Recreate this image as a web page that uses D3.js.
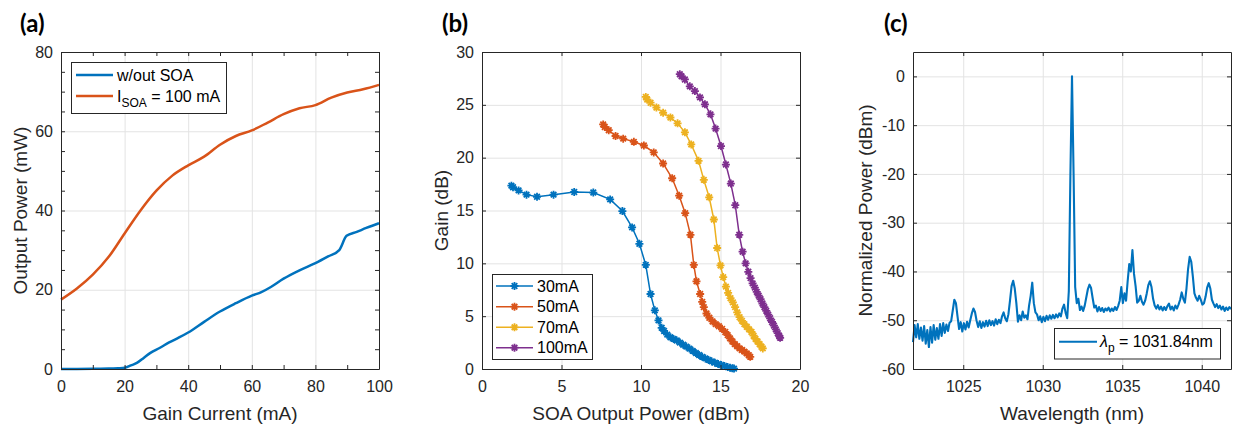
<!DOCTYPE html>
<meta charset="utf-8">
<style>
  body { margin: 0; background: #fff; }
  svg { display: block; font-family: "Liberation Sans", Arial, sans-serif; }
  .panel-label { font-family: Lato, "Open Sans", sans-serif; font-weight: bold; font-size: 24px; fill: #000; }
  .axis-title { font-size: 19px; fill: #262626; }
  .legend-text { font-size: 16px; fill: #000; }
</style>
<body>
<svg id="fig" width="1235" height="424"></svg>
<script src="https://d3js.org/d3.v7.min.js"></script>
<script>
// ---- (a) output power vs gain current
const currentNoSoa = [0, 5, 10, 15, 18, 20, 22, 24, 26, 28, 31, 34, 37, 40, 45, 50, 55, 60, 63, 66, 70, 75, 80, 84, 87.5, 89.8, 93, 96, 100];
const powerNoSoa   = [0, 0.02, 0.05, 0.1, 0.2, 0.3, 0.9, 1.6, 2.8, 4.0, 5.3, 6.7, 7.9, 9.2, 11.9, 14.5, 16.6, 18.5, 19.4, 20.7, 22.8, 24.9, 26.7, 28.4, 30.0, 33.6, 34.6, 35.6, 36.8];
const currentSoa   = [0, 5, 10, 15, 20, 25, 30, 35, 40, 45, 50, 55, 60, 65, 70, 75, 80, 85, 90, 95, 100];
const powerSoa     = [17.5, 20.3, 23.8, 28.3, 34.2, 40.0, 45.0, 48.8, 51.4, 53.6, 56.6, 58.8, 60.2, 62.2, 64.3, 65.8, 66.6, 68.5, 69.8, 70.6, 71.7];

// ---- (b) gain vs SOA output power
const pout30 = [1.85, 1.95, 2.3, 2.8, 3.46, 4.5, 5.8, 7.0, 8.06, 8.83, 9.44, 9.9, 10.3, 10.6, 10.87, 11.1, 11.3, 11.45, 11.65, 11.85, 12.05, 12.25, 12.45, 12.65, 12.85, 13.05, 13.25, 13.45, 13.65, 13.85, 14.05, 14.25, 14.45, 14.65, 14.85, 15.05, 15.25, 15.45, 15.6, 15.75, 15.85];
const gain30 = [17.35, 17.2, 16.9, 16.5, 16.3, 16.5, 16.75, 16.7, 16.05, 14.95, 13.4, 11.85, 9.85, 7.1, 5.55, 4.6, 3.9, 3.6, 3.25, 3.0, 2.85, 2.7, 2.5, 2.3, 2.12, 1.93, 1.72, 1.52, 1.33, 1.15, 1.0, 0.86, 0.72, 0.6, 0.48, 0.38, 0.28, 0.18, 0.12, 0.06, 0.04];
const pout50 = [7.62, 7.72, 7.97, 8.4, 8.88, 9.55, 10.18, 10.8, 11.39, 11.96, 12.4, 12.78, 13.11, 13.32, 13.49, 13.72, 13.85, 13.95, 14.12, 14.3, 14.5, 14.7, 14.9, 15.1, 15.3, 15.45, 15.6, 15.75, 15.9, 16.05, 16.2, 16.35, 16.5, 16.65, 16.78, 16.87];
const gain50 = [23.15, 22.9, 22.6, 22.05, 21.8, 21.5, 21.15, 20.5, 19.45, 18.05, 16.4, 14.75, 12.7, 9.85, 8.3, 7.1, 6.35, 5.85, 5.25, 4.85, 4.5, 4.25, 4.05, 3.8, 3.5, 3.2, 2.9, 2.6, 2.35, 2.15, 1.95, 1.8, 1.65, 1.48, 1.3, 1.15];
const pout70 = [10.3, 10.39, 10.6, 10.97, 11.39, 11.85, 12.3, 12.76, 13.16, 13.62, 13.95, 14.29, 14.58, 14.79, 15.0, 15.17, 15.34, 15.48, 15.63, 15.78, 15.92, 16.05, 16.2, 16.35, 16.5, 16.65, 16.8, 16.95, 17.08, 17.2, 17.33, 17.46, 17.58, 17.66];
const gain70 = [25.75, 25.5, 25.2, 24.75, 24.25, 23.8, 23.25, 22.4, 21.25, 19.7, 17.9, 16.25, 14.15, 11.45, 9.8, 8.7, 7.8, 7.2, 6.7, 6.3, 5.85, 5.35, 4.9, 4.55, 4.25, 4.0, 3.75, 3.5, 3.15, 2.85, 2.6, 2.35, 2.1, 1.95];
const pout100 = [12.44, 12.55, 12.76, 13.07, 13.39, 13.71, 14.02, 14.37, 14.69, 15.03, 15.34, 15.65, 15.93, 16.18, 16.39, 16.58, 16.75, 16.89, 17.02, 17.16, 17.28, 17.4, 17.52, 17.64, 17.76, 17.88, 18.0, 18.12, 18.24, 18.36, 18.48, 18.6, 18.7, 18.75];
const gain100 = [27.9, 27.7, 27.4, 26.75, 26.3, 25.7, 25.05, 24.1, 22.75, 21.1, 19.35, 17.55, 15.5, 12.7, 11.1, 10.0, 9.2, 8.6, 8.1, 7.7, 7.3, 6.95, 6.6, 6.2, 5.85, 5.5, 5.15, 4.8, 4.45, 4.1, 3.75, 3.4, 3.1, 2.95];
const soaLabels = ["30mA", "50mA", "70mA", "100mA"];

// ---- (c) optical spectrum, sampled every 0.1 nm from 1021.84 nm
const specStart = 1021.84, specStep = 0.1;
const specPower = [
  -54.5, -51.0, -53.5, -50.8, -53.8, -51.5, -54.2, -51.2, -54.8, -52.0,
  -55.5, -51.4, -54.6, -51.0, -54.0, -51.6, -53.8, -50.8, -53.2, -50.6,
  -52.6, -50.9, -52.2, -50.5, -50.2, -48.0, -45.8, -46.5, -49.2, -51.8,
  -50.4, -52.3, -50.6, -51.9, -50.3, -51.5, -50.0, -48.6, -47.6, -48.3,
  -50.1, -51.4, -50.2, -51.6, -50.4, -51.3, -50.1, -51.2, -50.0, -51.0,
  -50.2, -51.1, -49.8, -50.8, -49.9, -50.6, -49.2, -48.4, -49.6, -50.2,
  -48.8, -46.0, -43.0, -41.9, -43.5, -46.5, -50.3, -49.0, -50.0, -48.2,
  -49.5, -49.0, -49.8, -47.0, -45.0, -42.3, -46.5, -48.4, -48.8, -50.0,
  -49.2, -50.4, -49.3, -50.2, -49.1, -49.9, -49.0, -49.7, -48.9, -49.6,
  -48.8, -49.4, -48.6, -49.2, -47.6, -46.8, -48.5, -49.6, -44.0, -20.0,
  0.0, -20.0, -43.2, -46.5, -45.6, -47.9, -47.2, -48.1, -47.0, -45.3,
  -43.6, -42.7, -43.4, -45.5, -47.4, -47.0, -48.2, -47.3, -48.1, -47.5,
  -48.3, -47.6, -48.0, -47.4, -48.2, -47.6, -48.1, -47.3, -47.9, -47.1,
  -46.0, -43.2, -46.5, -44.5, -46.0, -42.0, -38.5, -40.0, -35.6, -40.5,
  -43.0, -46.4, -46.0, -45.0, -46.2, -46.8, -46.0, -44.5, -42.8, -42.0,
  -43.2, -45.6, -47.0, -47.6, -46.9, -47.8, -47.2, -48.0, -47.3, -47.9,
  -47.1, -46.6, -47.8, -47.2, -48.0, -47.0, -47.6, -46.8, -45.8, -44.3,
  -45.6, -46.4, -43.5, -39.5, -37.0, -38.0, -41.0, -44.5, -45.4, -46.0,
  -45.0, -45.8, -46.8, -46.5, -45.2, -43.3, -42.4, -43.5, -45.8, -46.6,
  -47.3, -46.7, -47.5, -47.0, -47.8, -47.2, -48.1, -47.4, -47.9, -47.3,
  -47.7
];

const colors = ["#0072BD", "#D95319", "#EDB120", "#7E2F8E"];
const AX = "#262626", GRID = "#e3e3e3";

const svg = d3.select("#fig");
svg.append("rect").attr("width", 1235).attr("height", 424).attr("fill", "#fff");

// one MATLAB-like axes box: grid, inward ticks on all four sides
function makeAxes(o) {
  const x = d3.scaleLinear().domain(o.xDomain).range([o.left, o.right]);
  const y = d3.scaleLinear().domain(o.yDomain).range([o.bottom, o.top]);
  const w = o.right - o.left, h = o.bottom - o.top;
  const grid = svg.append("g");
  grid.append("g").attr("transform", `translate(0,${o.bottom})`)
    .call(d3.axisBottom(x).tickValues(o.gridX).tickSize(-h).tickFormat(""))
    .call(s => s.select(".domain").remove());
  grid.append("g").attr("transform", `translate(${o.left},0)`)
    .call(d3.axisLeft(y).tickValues(o.gridY).tickSize(-w).tickFormat(""))
    .call(s => s.select(".domain").remove());
  grid.selectAll("line").attr("stroke", GRID).attr("stroke-width", 1);
  const plot = svg.append("g");
  const frame = () => {
    const f = svg.append("g");
    const lab = (list, fmt) => d => list.includes(d) ? fmt(d) : "";
    f.append("g").attr("transform", `translate(0,${o.bottom})`)
      .call(d3.axisBottom(x).tickValues(o.ticksX).tickSize(-4).tickSizeOuter(0).tickPadding(12)
        .tickFormat(lab(o.labelsX, d => String(d))));
    f.append("g").attr("transform", `translate(0,${o.top})`)
      .call(d3.axisTop(x).tickValues(o.ticksX).tickSize(-4).tickSizeOuter(0).tickFormat(""));
    f.append("g").attr("transform", `translate(${o.left},0)`)
      .call(d3.axisLeft(y).tickValues(o.ticksY).tickSize(-4).tickSizeOuter(0).tickPadding(8)
        .tickFormat(lab(o.labelsY, d => String(d))));
    f.append("g").attr("transform", `translate(${o.right},0)`)
      .call(d3.axisRight(y).tickValues(o.ticksY).tickSize(-4).tickSizeOuter(0).tickFormat(""));
    f.selectAll(".domain, line").attr("stroke", AX).attr("stroke-width", 1);
    f.selectAll("text").attr("fill", AX).attr("font-size", 16)
      .attr("font-family", '"Liberation Sans", Arial, sans-serif');
    svg.append("text").attr("class", "axis-title")
      .attr("x", (o.left + o.right) / 2).attr("y", 413).attr("dy", "0.35em")
      .attr("text-anchor", "middle").text(o.xTitle);
    svg.append("text").attr("class", "axis-title")
      .attr("transform", `translate(${o.yTitleX},${(o.top + o.bottom) / 2}) rotate(-90)`)
      .attr("dy", "0.35em").attr("text-anchor", "middle").text(o.yTitle);
    svg.append("text").attr("class", "panel-label")
      .attr("x", o.labelX).attr("y", 32).text(o.label);
  };
  return { x, y, plot, frame };
}

// ---------- (a)
const A = makeAxes({
  left: 61, right: 379, top: 52, bottom: 369,
  xDomain: [0, 100], yDomain: [0, 80],
  gridX: [20, 40, 60, 80], gridY: [20, 40, 60],
  ticksX: d3.range(0, 101, 10), labelsX: [0, 20, 40, 60, 80, 100],
  ticksY: d3.range(0, 81, 5), labelsY: [0, 20, 40, 60, 80],
  xTitle: "Gain Current (mA)", yTitle: "Output Power (mW)", yTitleX: 20,
  label: "(a)", labelX: 20
});
const lineA = d3.line().x(d => A.x(d[0])).y(d => A.y(d[1])).curve(d3.curveMonotoneX);
A.plot.append("path").attr("d", lineA(d3.zip(currentNoSoa, powerNoSoa)))
  .attr("fill", "none").attr("stroke", colors[0]).attr("stroke-width", 2.5);
A.plot.append("path").attr("d", lineA(d3.zip(currentSoa, powerSoa)))
  .attr("fill", "none").attr("stroke", colors[1]).attr("stroke-width", 2.5);
A.frame();
{
  const lg = svg.append("g");
  lg.append("rect").attr("x", 71.5).attr("y", 62.5).attr("width", 155).attr("height", 51)
    .attr("fill", "#fff").attr("stroke", AX).attr("stroke-width", 1);
  [75, 96].forEach((yy, i) => {
    lg.append("line").attr("x1", 76).attr("x2", 113).attr("y1", yy).attr("y2", yy)
      .attr("stroke", colors[i]).attr("stroke-width", 2.5);
  });
  lg.append("text").attr("class", "legend-text").attr("x", 117).attr("y", 75).attr("dy", "0.35em").text("w/out SOA");
  const t = lg.append("text").attr("class", "legend-text").attr("x", 117).attr("y", 96).attr("dy", "0.35em");
  t.append("tspan").text("I");
  t.append("tspan").attr("font-size", 12).attr("dy", 5).text("SOA");
  t.append("tspan").attr("dy", -5).text(" = 100 mA");
}

// ---------- (b)
const B = makeAxes({
  left: 482, right: 800, top: 52, bottom: 369,
  xDomain: [0, 20], yDomain: [0, 30],
  gridX: [5, 10, 15], gridY: [5, 10, 15, 20, 25],
  ticksX: d3.range(0, 21, 5), labelsX: [0, 5, 10, 15, 20],
  ticksY: d3.range(0, 31, 5), labelsY: [0, 5, 10, 15, 20, 25, 30],
  xTitle: "SOA Output Power (dBm)", yTitle: "Gain (dB)", yTitleX: 441,
  label: "(b)", labelX: 442
});
const asterisk = r => `M${-r},0H${r}M0,${-r}V${r}M${-r * 0.7},${-r * 0.7}L${r * 0.7},${r * 0.7}M${-r * 0.7},${r * 0.7}L${r * 0.7},${-r * 0.7}`;
const seriesB = [[pout30, gain30], [pout50, gain50], [pout70, gain70], [pout100, gain100]];
const lineB = d3.line().x(d => B.x(d[0])).y(d => B.y(d[1]));
seriesB.forEach(([xs, ys], i) => {
  const pts = d3.zip(xs, ys);
  B.plot.append("path").attr("d", lineB(pts)).attr("fill", "none")
    .attr("stroke", colors[i]).attr("stroke-width", 1.5);
  B.plot.selectAll(null).data(pts).join("path")
    .attr("transform", d => `translate(${B.x(d[0])},${B.y(d[1])})`)
    .attr("d", asterisk(4)).attr("fill", "none")
    .attr("stroke", colors[i]).attr("stroke-width", 1.8);
});
B.frame();
{
  const lg = svg.append("g");
  lg.append("rect").attr("x", 492.5).attr("y", 274.5).attr("width", 100).attr("height", 85)
    .attr("fill", "#fff").attr("stroke", AX).attr("stroke-width", 1);
  [286, 306.7, 327.3, 347.7].forEach((yy, i) => {
    lg.append("line").attr("x1", 496).attr("x2", 533).attr("y1", yy).attr("y2", yy)
      .attr("stroke", colors[i]).attr("stroke-width", 1.5);
    lg.append("path").attr("transform", `translate(514.5,${yy})`).attr("d", asterisk(4))
      .attr("fill", "none").attr("stroke", colors[i]).attr("stroke-width", 1.8);
    lg.append("text").attr("class", "legend-text").attr("x", 537).attr("y", yy)
      .attr("dy", "0.35em").text(soaLabels[i]);
  });
}

// ---------- (c)
const C = makeAxes({
  left: 913, right: 1231, top: 52, bottom: 369,
  xDomain: [1021.84, 1041.84], yDomain: [-60, 5],
  gridX: [1025, 1030, 1035, 1040], gridY: [-50, -40, -30, -20, -10, 0],
  ticksX: [1025, 1030, 1035, 1040], labelsX: [1025, 1030, 1035, 1040],
  ticksY: d3.range(-60, 1, 10), labelsY: d3.range(-60, 1, 10),
  xTitle: "Wavelength (nm)", yTitle: "Normalized Power (dBm)", yTitleX: 865,
  label: "(c)", labelX: 884
});
const spectrum = specPower.map((p, i) => [specStart + i * specStep, p]);
C.plot.append("path")
  .attr("d", d3.line().x(d => C.x(d[0])).y(d => C.y(d[1]))(spectrum))
  .attr("fill", "none").attr("stroke", colors[0]).attr("stroke-width", 2.1)
  .attr("stroke-linejoin", "round");
C.frame();
{
  const lg = svg.append("g");
  lg.append("rect").attr("x", 1054.5).attr("y", 328.5).attr("width", 166).attr("height", 30.5)
    .attr("fill", "#fff").attr("stroke", AX).attr("stroke-width", 1);
  lg.append("line").attr("x1", 1059).attr("x2", 1097).attr("y1", 341.7).attr("y2", 341.7)
    .attr("stroke", colors[0]).attr("stroke-width", 2);
  const t = lg.append("text").attr("class", "legend-text").attr("x", 1100).attr("y", 341.7).attr("dy", "0.35em");
  t.append("tspan").attr("font-style", "italic").text("λ");
  t.append("tspan").attr("font-size", 12).attr("dy", 5).text("p");
  t.append("tspan").attr("dy", -5).text(" = 1031.84nm");
}
</script>
</body>
